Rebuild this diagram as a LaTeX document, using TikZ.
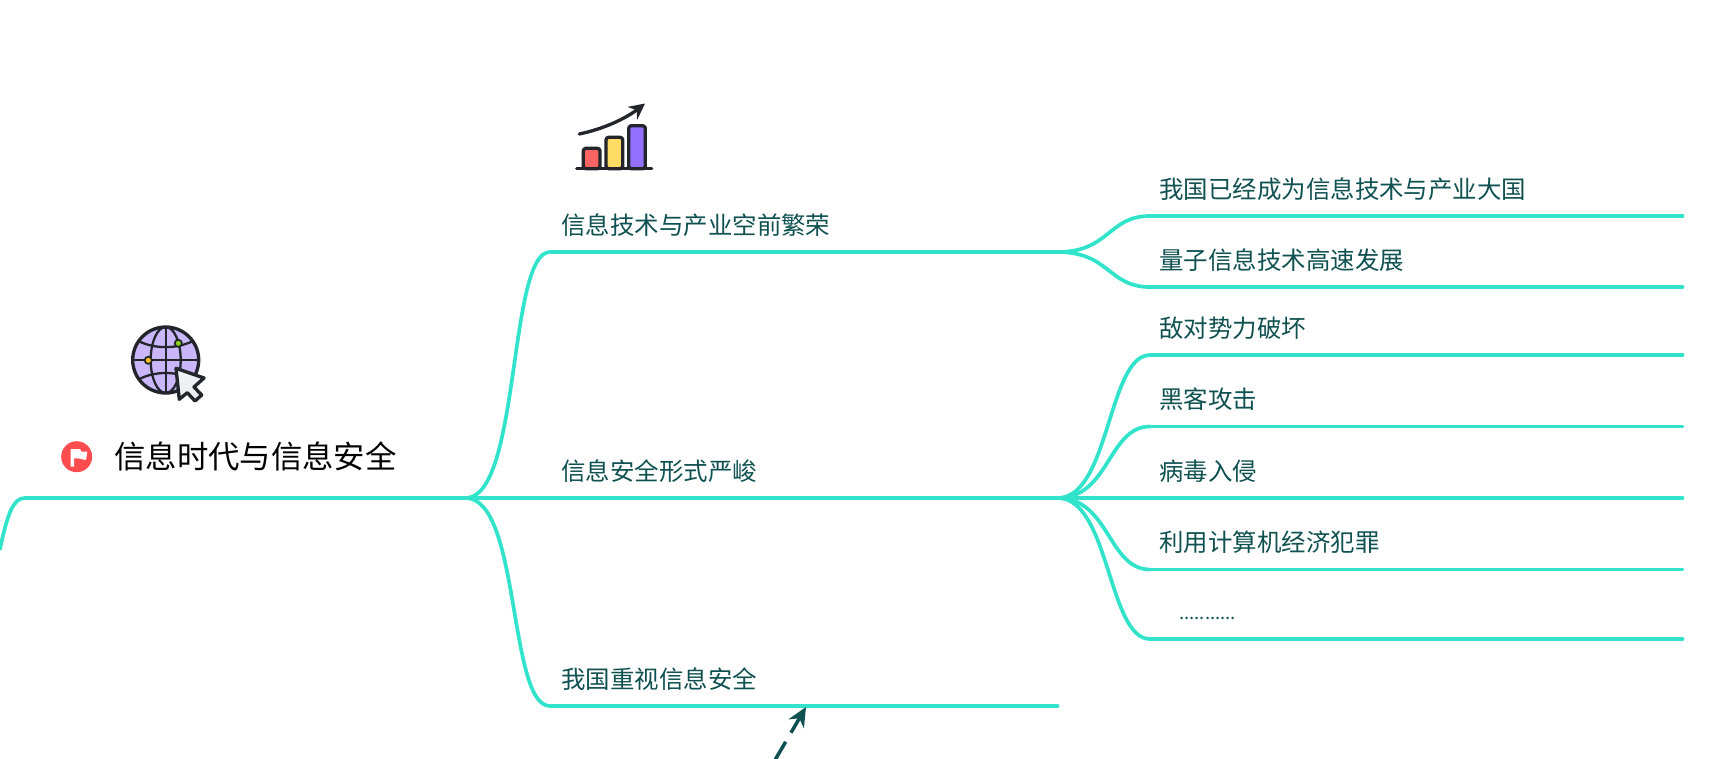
\documentclass[tikz,border=0pt]{standalone}
\usepackage{fontspec}
\setmainfont{Noto Sans CJK SC}
\usepackage{tikz}
\usetikzlibrary{arrows.meta, positioning, calc}
\definecolor{linkteal}{HTML}{30E3CA}
\definecolor{textteal}{HTML}{0F5050}
\definecolor{iconink}{HTML}{22262B}
\definecolor{FlagRed}{HTML}{FF4D4F}
\definecolor{GlobeLilac}{HTML}{C9B6FB}
\definecolor{DotYellow}{HTML}{FFC020}
\definecolor{DotGreen}{HTML}{8CD020}
\definecolor{CursorGrey}{HTML}{EEF1F3}
\definecolor{BarRed}{HTML}{FF6464}
\definecolor{BarYellow}{HTML}{FFDC64}
\definecolor{BarPurple}{HTML}{9370FF}
\tikzstyle{topic}    = [anchor=south west, font=\fontsize{13.92pt}{16pt}\selectfont, text=textteal,
                        text height=10pt, text depth=2.5pt, inner ysep=7.3pt]
\tikzstyle{mainbr}   = [topic, inner xsep=0.22cm, text width=9.7cm]
\tikzstyle{subbr}    = [topic, inner xsep=0.18cm, text width=10.28cm]
\tikzstyle{link}     = [linkteal, line width=2.1pt, line cap=round]
\tikzstyle{icon}     = [iconink, line width=1.9pt, line join=round, line cap=round]

\begin{document}
\begin{tikzpicture}[x=0.02cm, y=-0.02cm]
  \useasboundingbox (0,0) rectangle (1733,758);

  % --- Central topic ---
  \coordinate (off) at (0,549);
  \node[anchor=south west, minimum width=8.8cm, minimum height=1.6cm, inner sep=0pt] (root) at (25,498) {};
  \node[anchor=west, inner sep=0pt, font=\fontsize{17.85pt}{20pt}\selectfont] (roottxt) at (114,456.5) {信息时代与信息安全};
  \node[circle, fill=FlagRed, minimum size=0.62cm, inner sep=0pt] (flag) at (76.7,456.7) {};
  \fill[white] (70.7,449) -- (80,449) -- (81.5,451.7) -- (87.3,451.7) -- (86,460) -- (77.5,458.3) -- (74,458.3) -- (74,466.7) -- (70.7,466.7) -- cycle;

  % --- Main branches ---
  \node[mainbr] (b1) at (550,252) {信息技术与产业空前繁荣};
  \node[mainbr] (b2) at (550,498) {信息安全形式严峻};
  \node[mainbr] (b3) at (550,706) {我国重视信息安全};

  % --- Sub branches ---
  \node[subbr] (s1) at (1150,216) {我国已经成为信息技术与产业大国};
  \node[subbr] (s2) at (1150,287) {量子信息技术高速发展};
  \node[subbr] (s3) at (1150,355) {敌对势力破坏};
  \node[subbr] (s4) at (1150,426.5) {黑客攻击};
  \node[subbr] (s5) at (1150,498) {病毒入侵};
  \node[subbr] (s6) at (1150,569.5) {利用计算机经济犯罪};
  \node[subbr] (s7) at (1150,639) {\hspace*{0.4cm}{\fontsize{10.5pt}{16pt}\selectfont\raisebox{0.9pt}{...........}}};

  % Connections
  \draw[link] (off) .. controls +(8,-38) and +(-11,0) .. (root.south west) -- (root.south east);
  \foreach \x in {b1,b2,b3} {
    \draw[link] (root.south east) .. controls +(55,0) and +(-42,0) .. (\x.south west);
    \draw[link] (\x.south west) -- (\x.south east);
  }
  \foreach \x in {s1,s2} {
    \draw[link] (b1.south east) .. controls +(52,0) and +(-42,0) .. (\x.south west);
    \draw[link] (\x.south west) -- (\x.south east);
  }
  \foreach \x in {s3,s4,s5,s6,s7} {
    \draw[link] (b2.south east) .. controls +(52,0) and +(-42,0) .. (\x.south west);
    \draw[link] (\x.south west) -- (\x.south east);
  }

  % Dashed pointer from below
  \coordinate (ptr) at (775,760);
  \coordinate (ptrend) at (806,707);
  \draw[textteal, line width=2pt, dash pattern=on 12pt off 6pt, -{Stealth[length=11pt,width=10pt]}] (ptr) -- (ptrend);

  % --- Globe icon ---
  \fill[GlobeLilac] (165.7,360) circle (33);
  \begin{scope}[icon]
    \begin{scope}[line width=1.3pt]
      \draw (165.7,327) -- (165.7,393);
      \draw (132.7,360) -- (198.7,360);
      \draw (165.7,360) ellipse (15 and 33);
      \draw (139.5,341.5) .. controls (155,349) and (176,349) .. (192,341.5);
      \draw (139.5,379) .. controls (155,371) and (176,371) .. (192,379);
    \end{scope}
    \draw (165.7,360) circle (33);
    \draw[line width=1pt, fill=DotYellow] (148.3,360.3) circle (3.6);
    \draw[line width=1pt, fill=DotGreen] (178.3,343.3) circle (3.6);
    \draw[fill=CursorGrey] (176,368.3) -- (204,378) -- (194,387) -- (201.7,395) -- (195,401) -- (187.3,392.7) -- (179.3,399.3) -- cycle;
  \end{scope}

  % --- Bar chart icon ---
  \begin{scope}[icon]
    \draw[fill=BarRed, rounded corners=1.5pt] (583.3,168.7) rectangle (600,148.3);
    \draw[fill=BarYellow, rounded corners=1.5pt] (606,168.7) rectangle (622.7,137.3);
    \draw[fill=BarPurple, rounded corners=1.5pt] (628.7,168.7) rectangle (645.3,125.7);
    \draw (576.7,168.7) -- (651.7,168.7);
    \draw[-{Stealth[length=9pt,width=9pt]}] (579.3,134) .. controls (603,129) and (625,119) .. (645,103.5);
  \end{scope}
\end{tikzpicture}
\end{document}
